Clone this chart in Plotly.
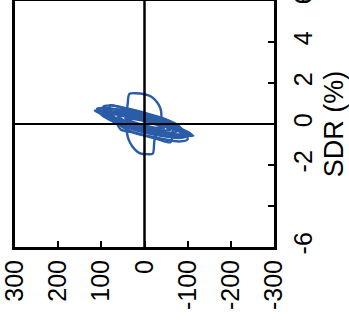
import plotly.graph_objects as go

# Hysteresis cycles: lateral force (kN) vs story drift ratio SDR (%)
cycle_1_force = [45, 36, 18, 0, -18, -36, -45, -36, -18, 0, 18, 36, 45]
cycle_1_sdr = [0.28, 0.28, 0.22, 0.14, 0.03, -0.11, -0.21, -0.21, -0.15, -0.07, 0.04, 0.18, 0.28]

cycle_2_force = [62, 50, 25, 0, -24, -48, -60, -48, -24, 0, 25, 50, 62]
cycle_2_sdr = [0.37, 0.39, 0.33, 0.22, 0.07, -0.13, -0.29, -0.31, -0.26, -0.15, 0.01, 0.21, 0.37]

cycle_3_force = [78, 62, 31, 0, -30, -60, -75, -60, -30, 0, 31, 62, 78]
cycle_3_sdr = [0.45, 0.50, 0.44, 0.30, 0.11, -0.16, -0.37, -0.42, -0.36, -0.23, -0.03, 0.24, 0.45]

cycle_4_force = [92, 74, 37, 0, -36, -72, -90, -72, -36, 0, 37, 74, 92]
cycle_4_sdr = [0.53, 0.60, 0.54, 0.38, 0.15, -0.18, -0.45, -0.52, -0.46, -0.31, -0.07, 0.26, 0.53]

cycle_5_force = [115, 92, 46, 0, -45, -90, -113, -90, -45, 0, 46, 92, 115]
cycle_5_sdr = [0.65, 0.64, 0.48, 0.26, -0.01, -0.34, -0.57, -0.56, -0.40, -0.19, 0.08, 0.42, 0.65]

cycle_6_force = [105, 84, 42, 0, -40, -80, -100, -80, -40, 0, 42, 84, 105]
cycle_6_sdr = [0.60, 0.71, 0.67, 0.49, 0.23, -0.17, -0.50, -0.62, -0.58, -0.42, -0.15, 0.26, 0.60]

cycle_7_force = [110, 88, 44, 0, -43, -86, -108, -86, -43, 0, 44, 88, 110]
cycle_7_sdr = [0.75, 0.78, 0.60, 0.38, 0.10, -0.25, -0.50, -0.60, -0.45, -0.22, 0.10, 0.50, 0.75]

cycle_8_force = [95, 76, 38, 0, -40, -80, -100, -80, -40, 0, 38, 76, 95]
cycle_8_sdr = [0.85, 0.90, 0.75, 0.55, 0.30, -0.10, -0.75, -0.85, -0.72, -0.55, -0.30, 0.25, 0.85]

cycle_9_force = [100, 80, 40, 0, -38, -76, -95, -76, -38, 0, 40, 80, 100]
cycle_9_sdr = [0.45, 0.50, 0.38, 0.18, -0.05, -0.32, -0.62, -0.68, -0.55, -0.35, -0.12, 0.20, 0.45]

cycle_10_force = [80, 40, 0, -40, -62, -65, -60, -30, 0, 30, 55, 70, 80]
cycle_10_sdr = [0.91, 0.70, 0.49, 0.27, 0.05, -0.50, -0.89, -0.73, -0.57, -0.40, -0.27, 0.30, 0.91]

cycle_11_force = [40, 42, 39, 35, 20, 0, -16, -30, -37, -39, -38, -28, -23, -19, -5, 7, 18, 28, 36, 40]
cycle_11_sdr = [-0.5, 0.3, 0.98, 1.47, 1.5, 1.45, 1.33, 1.04, 0.75, 0.5, 0.0, -0.5, -0.8, -1.45, -1.47, -1.45, -1.33, -1.1, -0.8, -0.5]

cycles = [
    (cycle_1_force, cycle_1_sdr),
    (cycle_2_force, cycle_2_sdr),
    (cycle_3_force, cycle_3_sdr),
    (cycle_4_force, cycle_4_sdr),
    (cycle_5_force, cycle_5_sdr),
    (cycle_6_force, cycle_6_sdr),
    (cycle_7_force, cycle_7_sdr),
    (cycle_8_force, cycle_8_sdr),
    (cycle_9_force, cycle_9_sdr),
    (cycle_10_force, cycle_10_sdr),
    (cycle_11_force, cycle_11_sdr),
]

force_ticks = [300, 200, 100, 0, -100, -200, -300]
force_tick_text = ["300", "200", "100", "0", "-100", "-200", "-300"]
sdr_ticks = [-6, -4, -2, 0, 2, 4, 6]
sdr_tick_text = ["-6", "", "-2", "0", "2", "4", "6"]

LINE_BLUE = "#2b5ca8"
FONT = "Arial, Liberation Sans, sans-serif"

fig = go.Figure()
for f, s in cycles:
    fig.add_trace(go.Scatter(
        x=f, y=s, mode="lines",
        line=dict(color=LINE_BLUE, width=2.4, shape="spline", smoothing=0.8),
        showlegend=False, hoverinfo="skip",
    ))

# zero reference lines drawn over the loops
fig.add_shape(type="line", xref="x", yref="paper", x0=0, x1=0, y0=0, y1=1,
              line=dict(color="black", width=2.5), layer="above")
fig.add_shape(type="line", xref="paper", yref="y", x0=0, x1=1, y0=0, y1=0,
              line=dict(color="black", width=2), layer="above")

fig.update_layout(
    width=349, height=320,
    margin=dict(l=15, r=75, t=1, b=73, autoexpand=False),
    paper_bgcolor="white", plot_bgcolor="white",
    font=dict(family=FONT, color="black", size=25),
    xaxis=dict(
        range=[300, -300], tickvals=force_ticks, ticktext=force_tick_text,
        tickangle=-90, ticks="inside", ticklen=6, tickwidth=2, tickcolor="black",
        showline=True, linewidth=3, linecolor="black", mirror=True,
        showgrid=False, zeroline=False, tickfont=dict(size=25),
        ticklabeloverflow="allow", automargin=False,
    ),
    yaxis=dict(
        side="right", range=[-6, 6], tickvals=sdr_ticks, ticktext=sdr_tick_text,
        tickangle=-90, ticks="inside", ticklen=6, tickwidth=2, tickcolor="black",
        showline=True, linewidth=3, linecolor="black", mirror=True,
        showgrid=False, zeroline=False, tickfont=dict(size=25),
        ticklabeloverflow="allow", ticklabelstandoff=5, automargin=False,
        title=dict(text="SDR (%)", font=dict(size=27), standoff=14),
    ),
)

fig.write_html("out.html")
